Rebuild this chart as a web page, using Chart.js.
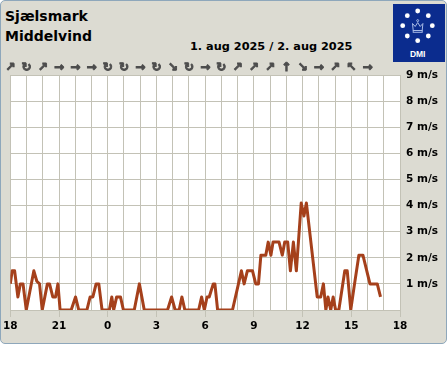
<!DOCTYPE html>
<html>
<head>
<meta charset="utf-8">
<script src="https://cdn.jsdelivr.net/npm/chart.js@4.4.0/dist/chart.umd.min.js"></script>
<style>
  html, body { margin: 0; padding: 0; background: #fff; }
  #wrap { position: relative; width: 447px; height: 370px; }
  #panel { position: absolute; left: 0; top: 0; width: 447px; height: 344px; box-sizing: border-box;
           background: #dcdbd2; border: 1px solid #8ea7bb; border-radius: 5px; }
  .txt { position: absolute; font-family: 'DejaVu Sans'; font-weight: bold; color: #000; line-height: 1; white-space: nowrap; }
  #title1 { left: 5px; top: 9px; font-size: 14px; }
  #title2 { left: 5px; top: 29px; font-size: 14px; }
  #dates { left: 190px; top: 41px; font-size: 11.3px; }
  #logo { position: absolute; left: 393px; top: 4px; }
  canvas { position: absolute; left: 0; top: 0; }
</style>
</head>
<body>
<div id="wrap">
  <div id="panel"></div>
  <div class="txt" id="title1">Sjælsmark</div>
  <div class="txt" id="title2">Middelvind</div>
  <div class="txt" id="dates">1. aug 2025 / 2. aug 2025</div>
  <svg id="logo" width="52" height="58" viewBox="0 0 52 58">
    <rect width="52" height="58" fill="#0b2c8e"/>
    <g fill="#fff">
      <circle cx="14.3" cy="11.7" r="2.4"/>
      <circle cx="24.7" cy="7" r="2.4"/>
      <circle cx="35.3" cy="11.7" r="2.4"/>
      <circle cx="39.3" cy="21.7" r="2.4"/>
      <circle cx="35.3" cy="32" r="2.4"/>
      <circle cx="24.7" cy="36.7" r="2.4"/>
      <circle cx="14.3" cy="32" r="2.4"/>
      <circle cx="9.7" cy="21.7" r="2.4"/>
    </g>
    <g fill="none" stroke="#a9bbe6" stroke-width="1">
      <path d="M20.2,26.5 L19.5,19.5 L22.2,22.5 L24.7,18.5 L27.2,22.5 L29.9,19.5 L29.2,26.5 Z"/>
      <rect x="20.2" y="26.5" width="9" height="1.8"/>
      <circle cx="24.7" cy="16.6" r="1"/>
    </g>
    <text x="24.7" y="53.3" text-anchor="middle" font-family="Liberation Sans" font-weight="bold" font-size="8.5" fill="#fff">DMI</text>
  </svg>
  <canvas id="windChart" width="447" height="370"></canvas>
</div>
<script>
// minutes after 18:00 on 1 aug, and mean wind (m/s)
const windTimes = [0, 7, 16, 28, 37, 47, 59, 87, 98, 108, 118, 137, 145, 157, 167, 176, 184,
  225, 241, 253, 283, 295, 305, 317, 327, 339, 366, 375, 382, 393, 407, 418, 458, 477, 495,
  581, 596, 609, 624, 634, 645, 696, 707, 717, 727, 735, 750, 756, 766, 821, 854, 864, 876,
  895, 907, 917, 926, 944, 953, 963, 971, 993, 1005, 1014, 1025, 1035, 1046, 1057, 1075,
  1085, 1094, 1134, 1147, 1157, 1166, 1174, 1184, 1193, 1202, 1214, 1236, 1245, 1258, 1272,
  1288, 1303, 1329, 1356, 1368];
const windSpeed = [1.0, 1.5, 1.5, 0.5, 1.0, 1.0, 0, 1.5, 1.1, 1.0, 0, 1.0, 1.0, 0.5, 0.5, 1.0, 0,
  0, 0.5, 0, 0, 0.5, 0.5, 1.0, 1.0, 0, 0, 0.5, 0, 0.5, 0.5, 0, 0, 1.0, 0,
  0, 0.5, 0, 0, 0.5, 0, 0, 0.5, 0, 0.5, 0.5, 1.0, 1.0, 0, 0, 1.5, 1.0, 1.5,
  1.5, 1.0, 1.0, 2.1, 2.1, 2.6, 2.1, 2.6, 2.6, 2.1, 2.6, 2.6, 1.5, 2.6, 1.5, 4.1,
  3.6, 4.1, 0.5, 0.5, 1.0, 0, 0.5, 0, 0.5, 0, 0, 1.5, 1.5, 0, 1.0,
  2.1, 2.1, 1.0, 1.0, 0.5];

// wind direction glyph for each hour (↻ = variable)
const dirHours = [0, 1, 2, 3, 4, 5, 6, 7, 8, 9, 10, 11, 12, 13, 14, 15, 16, 17, 18, 19, 20, 21, 22];
const windDirs = ['↗', '↻', '↗', '→', '→', '→', '↻', '↻', '→', '↻', '↘', '↻', '→', '↻',
  '↗', '↗', '↗', '↑', '↘', '→', '↗', '↖', '→'];

const hourLabels = ['18', '21', '0', '3', '6', '9', '12', '15', '18'];
const speedLabels = ['', '1 m/s', '2 m/s', '3 m/s', '4 m/s', '5 m/s', '6 m/s', '7 m/s', '8 m/s', '9 m/s'];

const gridCol = '#c3c2b6';
const axisFont = { family: 'DejaVu Sans', size: 10.5, weight: 'bold' };

const plotBg = {
  id: 'plotBg',
  beforeDraw(chart) {
    const { ctx, chartArea: a } = chart;
    ctx.save();
    ctx.fillStyle = '#fff';
    ctx.fillRect(a.left, a.top, a.right - a.left, a.bottom - a.top);
    ctx.restore();
  }
};

const arrowRow = {
  id: 'arrowRow',
  afterDraw(chart) {
    const { ctx } = chart;
    const xs = chart.scales.x;
    ctx.save();
    ctx.font = 'bold 12px "DejaVu Sans"';
    ctx.fillStyle = '#4d4d4d';
    ctx.strokeStyle = '#4d4d4d';
    ctx.lineWidth = 0.9;
    ctx.textAlign = 'center';
    ctx.textBaseline = 'middle';
    dirHours.forEach((h, i) => {
      const px = xs.getPixelForValue(h * 60);
      ctx.fillText(windDirs[i], px, 68);
      ctx.strokeText(windDirs[i], px, 68);
    });
    ctx.restore();
  }
};

new Chart(document.getElementById('windChart'), {
  type: 'line',
  data: {
    datasets: [{
      data: windTimes.map((t, i) => ({ x: t, y: windSpeed[i] })),
      borderColor: '#a5401b',
      borderWidth: 3,
      borderJoinStyle: 'round',
      pointRadius: 0,
      tension: 0
    }]
  },
  options: {
    responsive: false,
    animation: false,
    layout: { padding: { left: 10, top: 75, right: 0, bottom: 27 } },
    plugins: { legend: { display: false }, tooltip: { enabled: false } },
    scales: {
      x: {
        type: 'linear',
        min: 0,
        max: 1440,
        afterFit(s) { s.height = 33; },
        grid: {
          color: gridCol,
          tickLength: 7,
          tickColor: (c) => (c.tick && c.tick.value % 180 === 0) ? gridCol : 'rgba(0,0,0,0)'
        },
        border: { color: gridCol },
        ticks: {
          stepSize: 60,
          autoSkip: false,
          maxRotation: 0,
          padding: 3,
          color: '#000',
          font: axisFont,
          callback: (v) => v % 180 === 0 ? hourLabels[v / 180] : ''
        }
      },
      y: {
        position: 'right',
        min: 0,
        max: 9,
        afterFit(s) { s.width = 47; },
        grid: { color: gridCol, drawTicks: false },
        border: { color: gridCol },
        ticks: {
          stepSize: 1,
          padding: 6,
          color: '#000',
          font: axisFont,
          callback: (v) => speedLabels[v]
        }
      }
    }
  },
  plugins: [plotBg, arrowRow]
});
</script>
</body>
</html>
